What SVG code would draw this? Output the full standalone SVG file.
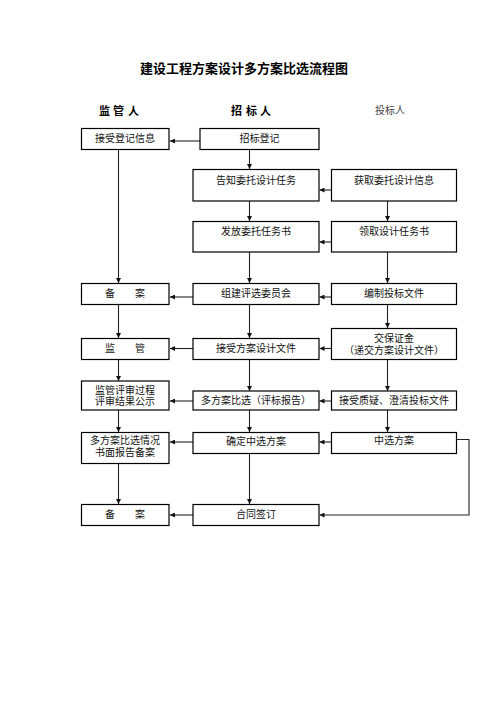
<svg xmlns="http://www.w3.org/2000/svg" width="496" height="702" viewBox="0 0 496 702">
<style>
.box{fill:#fff;stroke:#000;stroke-width:1.2}
.t{font-family:"Liberation Sans","Noto Sans CJK SC",sans-serif;font-size:10px;fill:#111;text-anchor:middle}
.h{font-family:"Liberation Sans","Noto Sans CJK SC",sans-serif;font-size:11px;font-weight:bold;fill:#000}
.c{fill:none;stroke:#222;stroke-width:1.1}
</style>
<defs>
<marker id="a" viewBox="0 0 6 6" refX="6" refY="3" markerWidth="5" markerHeight="5" markerUnits="userSpaceOnUse" orient="auto">
<path d="M0,0 L6,3 L0,6 Z" fill="#111"/>
</marker>
</defs>
<rect width="496" height="702" fill="#fff"/>
<text x="244" y="73" font-family="'Liberation Sans','Noto Sans CJK SC',sans-serif" font-size="13" font-weight="bold" text-anchor="middle">建设工程方案设计多方案比选流程图</text>
<text class="h" x="99 113 128" y="115">监管人</text>
<text class="h" x="231 246 260" y="115">招标人</text>
<text x="390" y="114" font-family="'Liberation Sans','Noto Sans CJK SC',sans-serif" font-size="10" fill="#444" text-anchor="middle">投标人</text>

<g id="connectors">
<path class="c" d="M200,141 H170" marker-end="url(#a)"/>
<path class="c" d="M249.5,149 V169" marker-end="url(#a)"/>
<path class="c" d="M332,190 H319.5" marker-end="url(#a)"/>
<path class="c" d="M249.5,201 V221" marker-end="url(#a)"/>
<path class="c" d="M387.5,201 V221" marker-end="url(#a)"/>
<path class="c" d="M332,242 H319.5" marker-end="url(#a)"/>
<path class="c" d="M118.5,149 V283" marker-end="url(#a)"/>
<path class="c" d="M249.5,252 V283" marker-end="url(#a)"/>
<path class="c" d="M387.5,252 V283" marker-end="url(#a)"/>
<path class="c" d="M193,297 H170" marker-end="url(#a)"/>
<path class="c" d="M332,297 H319.5" marker-end="url(#a)"/>
<path class="c" d="M118.5,304 V338" marker-end="url(#a)"/>
<path class="c" d="M249.5,304 V338" marker-end="url(#a)"/>
<path class="c" d="M387.5,304 V328" marker-end="url(#a)"/>
<path class="c" d="M193,348.5 H170" marker-end="url(#a)"/>
<path class="c" d="M332,348.5 H319.5" marker-end="url(#a)"/>
<path class="c" d="M118.5,359 V381" marker-end="url(#a)"/>
<path class="c" d="M249.5,359 V391" marker-end="url(#a)"/>
<path class="c" d="M387.5,359 V391" marker-end="url(#a)"/>
<path class="c" d="M193,401 H170" marker-end="url(#a)"/>
<path class="c" d="M332,401 H319.5" marker-end="url(#a)"/>
<path class="c" d="M118.5,410 V432" marker-end="url(#a)"/>
<path class="c" d="M249.5,410 V432" marker-end="url(#a)"/>
<path class="c" d="M387.5,410 V432" marker-end="url(#a)"/>
<path class="c" d="M193,442 H170" marker-end="url(#a)"/>
<path class="c" d="M332,442 H319.5" marker-end="url(#a)"/>
<path class="c" d="M118.5,463 V504" marker-end="url(#a)"/>
<path class="c" d="M249.5,453 V504" marker-end="url(#a)"/>
<path class="c" d="M193,515 H170" marker-end="url(#a)"/>
<path class="c" d="M457,439.5 H469 V515 H319.5" marker-end="url(#a)"/>
</g>

<g id="n1"><rect class="box" x="81.5" y="128.5" width="87.5" height="21"/><text class="t" x="125" y="142">接受登记信息</text></g>
<g id="n2"><rect class="box" x="200" y="128.5" width="119" height="21"/><text class="t" x="259.5" y="142">招标登记</text></g>
<g id="n3"><rect class="box" x="193" y="169.5" width="126" height="31.5"/><text class="t" x="256" y="184">告知委托设计任务</text></g>
<g id="n4"><rect class="box" x="331.5" y="169.5" width="125" height="31.5"/><text class="t" x="394" y="184">获取委托设计信息</text></g>
<g id="n5"><rect class="box" x="193" y="221.5" width="126" height="30.5"/><text class="t" x="256" y="235">发放委托任务书</text></g>
<g id="n6"><rect class="box" x="331.5" y="221.5" width="125" height="30.5"/><text class="t" x="394" y="235">领取设计任务书</text></g>
<g id="n7"><rect class="box" x="81.5" y="283.5" width="87.5" height="21"/><text class="t" x="125" y="297">备　　案</text></g>
<g id="n8"><rect class="box" x="193" y="283.5" width="126" height="21"/><text class="t" x="256" y="297">组建评选委员会</text></g>
<g id="n9"><rect class="box" x="331.5" y="283.5" width="125" height="21"/><text class="t" x="394" y="297">编制投标文件</text></g>
<g id="n10"><rect class="box" x="81.5" y="338.5" width="87.5" height="21"/><text class="t" x="125" y="352">监　　管</text></g>
<g id="n11"><rect class="box" x="193" y="338.5" width="126" height="21"/><text class="t" x="256" y="352">接受方案设计文件</text></g>
<g id="n12"><rect class="box" x="331.5" y="328.5" width="125" height="31"/><text class="t" x="394" y="342">交保证金</text><text class="t" x="394" y="353.5">（递交方案设计文件）</text></g>
<g id="n13"><rect class="box" x="81.5" y="381" width="87.5" height="29"/><text class="t" x="125" y="394">监管评审过程</text><text class="t" x="125" y="405">评审结果公示</text></g>
<g id="n14"><rect class="box" x="193" y="391" width="126" height="19"/><text class="t" x="256" y="404">多方案比选（评标报告）</text></g>
<g id="n15"><rect class="box" x="331.5" y="391" width="125" height="19"/><text class="t" x="394" y="404">接受质疑、澄清投标文件</text></g>
<g id="n16"><rect class="box" x="81.5" y="432.5" width="87.5" height="31"/><text class="t" x="125" y="444">多方案比选情况</text><text class="t" x="125" y="456">书面报告备案</text></g>
<g id="n17"><rect class="box" x="193" y="432.5" width="126" height="21"/><text class="t" x="256" y="444.5">确定中选方案</text></g>
<g id="n18"><rect class="box" x="331.5" y="432.5" width="125" height="21"/><text class="t" x="394" y="443.5">中选方案</text></g>
<g id="n19"><rect class="box" x="81.5" y="504.5" width="87.5" height="21"/><text class="t" x="125" y="518">备　　案</text></g>
<g id="n20"><rect class="box" x="193" y="504.5" width="126" height="21"/><text class="t" x="256" y="518">合同签订</text></g>
</svg>
